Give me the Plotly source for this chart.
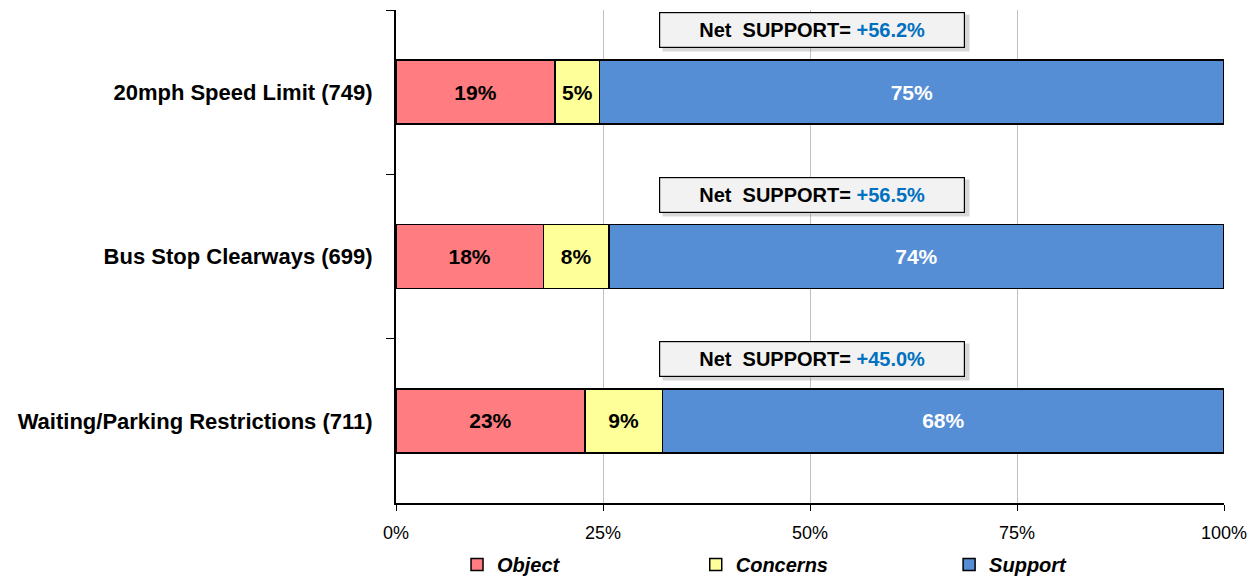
import plotly.graph_objects as go

# ---- data (top row first) ----
categories = [
    "20mph Speed Limit (749)",
    "Bus Stop Clearways (699)",
    "Waiting/Parking Restrictions (711)",
]
object_pct = [19.2, 17.8, 22.8]
concerns_pct = [5.4, 7.9, 9.4]
support_pct = [75.4, 74.3, 67.8]
net_support = ["+56.2%", "+56.5%", "+45.0%"]
x_ticks = [0, 25, 50, 75, 100]
x_tick_labels = ["0%", "25%", "50%", "75%", "100%"]

OBJECT_COLOR = "#ff7c80"
CONCERNS_COLOR = "#ffff99"
SUPPORT_COLOR = "#558ed5"
NET_VALUE_COLOR = "#0070c0"
FONT = "Liberation Sans, Arial, sans-serif"
LEGEND_FONT = dict(family=FONT, size=20, weight="bold", style="italic")

fig = go.Figure()

# one legend per series so the entries sit where the original put them
series = [
    ("Object", object_pct, OBJECT_COLOR, "black", "legend", 0.0737),
    ("Concerns", concerns_pct, CONCERNS_COLOR, "black", "legend2", 0.362),
    ("Support", support_pct, SUPPORT_COLOR, "white", "legend3", 0.668),
]
for name, vals, color, txt_color, legend_id, _ in series:
    fig.add_trace(go.Bar(
        y=categories, x=vals, name=name, orientation="h",
        marker=dict(color=color, line=dict(color="black", width=1.5)),
        texttemplate="%{x:.0f}%", textposition="inside",
        insidetextanchor="middle", constraintext="none",
        textfont=dict(family=FONT, size=21, color=txt_color, weight="bold"),
        width=0.39, legend=legend_id, showlegend=True,
    ))

# net support boxes above each bar, with a soft drop shadow
for cat, net in zip(categories, net_support):
    fig.add_annotation(
        x=50.2, y=cat, xref="x", yref="y", yshift=59, xshift=4,
        text="&nbsp;", showarrow=False, width=294, height=24,
        bgcolor="rgba(140,140,140,0.35)", borderpad=6,
    )
    fig.add_annotation(
        x=50.2, y=cat, xref="x", yref="y", yshift=62,
        text=f"Net  SUPPORT= <span style='color:{NET_VALUE_COLOR}'>{net}</span>",
        showarrow=False, width=294, height=24,
        font=dict(family=FONT, size=20, color="black", weight="bold"),
        bgcolor="#f2f2f2", bordercolor="black", borderwidth=1.2, borderpad=5,
    )

legends = {
    legend_id: dict(
        orientation="h", x=lx, xanchor="left", y=-0.085, yanchor="top",
        font=LEGEND_FONT, bgcolor="rgba(0,0,0,0)",
    )
    for _, _, _, _, legend_id, lx in series
}

# the page body adds an 8px offset, so the figure is 8px smaller than the window
fig.update_layout(
    barmode="stack",
    width=1250, height=571,
    margin=dict(l=388, r=34, t=2, b=76, autoexpand=False),
    plot_bgcolor="white", paper_bgcolor="white",
    font=dict(family=FONT, color="black"),
    bargap=0.61,
    showlegend=True,
    **legends,
)
fig.update_xaxes(
    range=[0, 100], tickvals=x_ticks, ticktext=x_tick_labels,
    showgrid=True, gridcolor="#c0c0c0", gridwidth=1,
    showline=True, linecolor="black", linewidth=2,
    ticks="outside", ticklen=6, tickcolor="black", ticklabelstandoff=6,
    tickfont=dict(size=18), zeroline=False,
)
fig.update_yaxes(
    autorange="reversed", categoryorder="array", categoryarray=categories,
    showline=True, linecolor="black", linewidth=2,
    ticks="outside", ticklen=8, tickcolor="black", tickson="boundaries",
    tickfont=dict(size=22, weight="bold"), ticklabelstandoff=17,
    showgrid=False,
)

fig.write_html("out.html")
